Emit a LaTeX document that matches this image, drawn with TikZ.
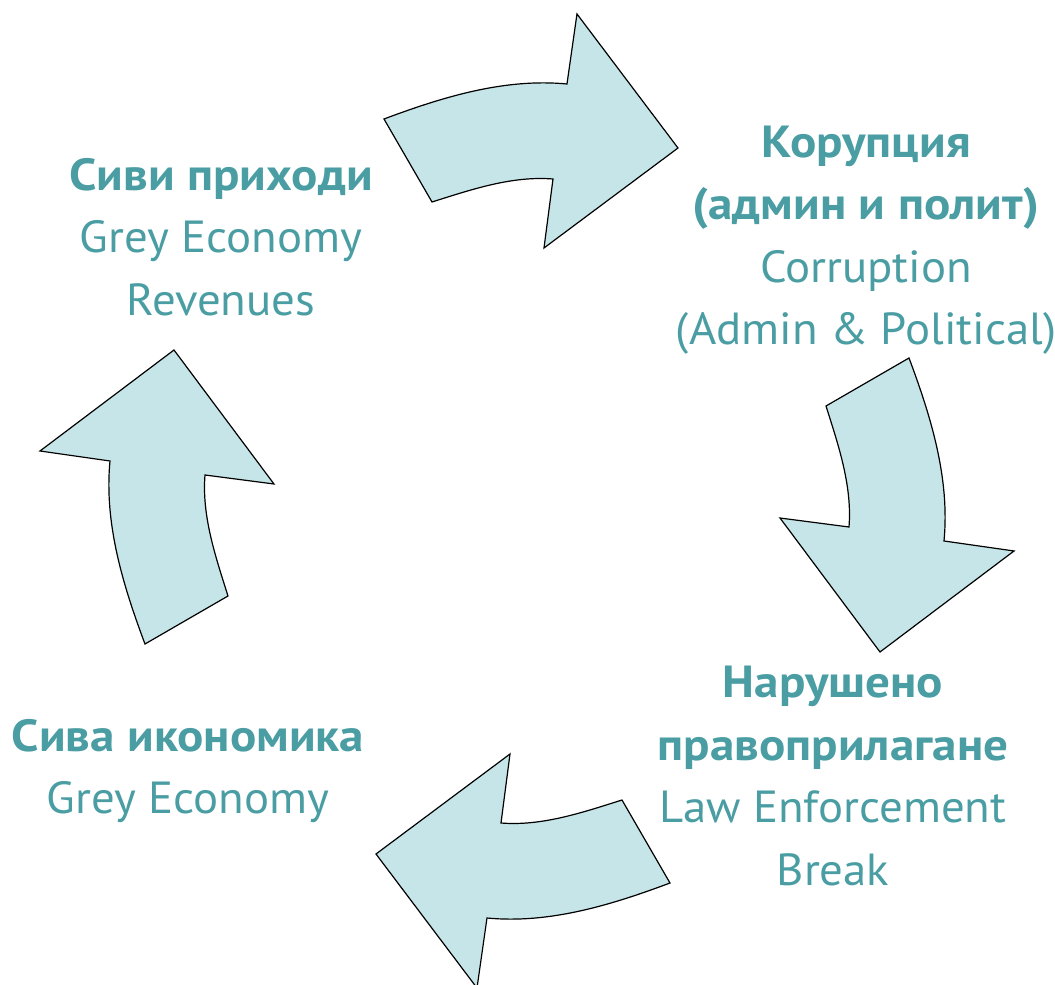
\documentclass[tikz,border=0pt]{standalone}
\usepackage{fontspec}
\setmainfont{PT Sans}[FakeStretch=1.04,BoldFeatures={FakeStretch=1.09}]
\definecolor{cyclefill}{RGB}{197,229,232}
\definecolor{cycletext}{RGB}{74,158,163}
\tikzset{
  cycle arrow/.pic={
    \draw[arrow shape] (-143,382) .. controls (-84.3,404) and (-22.4,423) .. (40,417)
      -- (50,487) -- (151,353) -- (17,253) -- (26,322)
      .. controls (-15.1,325.3) and (-55.7,311.4) .. (-95,299) -- cycle;
  }
}
\begin{document}
\begin{tikzpicture}[x=1pt,y=1pt,
    arrow shape/.style={draw=black,line width=1.2pt,line join=miter,fill=cyclefill},
    main node/.style={align=center,text=cycletext,inner sep=0pt,font=\fontsize{45}{62.5}\selectfont}]
    \useasboundingbox (-527,-484) rectangle (528,501);

    % the four arrows of the cycle
    \pic at (0,0) {cycle arrow};
    \pic[rotate=-90] at (0,0) {cycle arrow};
    \pic[rotate=-180] at (0,0) {cycle arrow};
    \pic[rotate=-270] at (0,0) {cycle arrow};

    \node[main node] (1) at (-306,264) {\bfseries Сиви приходи\\Grey Economy\\Revenues};
    \node[main node] (2) at (339,261) {\bfseries Корупция\\\bfseries (админ и полит)\\Corruption\\(Admin \& Political)};
    \node[main node] (3) at (306,-275) {\bfseries Нарушено\\\bfseries правоприлагане\\Law Enforcement\\Break};
    \node[main node] (4) at (-339,-270) {\bfseries Сива икономика\\Grey Economy};

\end{tikzpicture}
\end{document}
